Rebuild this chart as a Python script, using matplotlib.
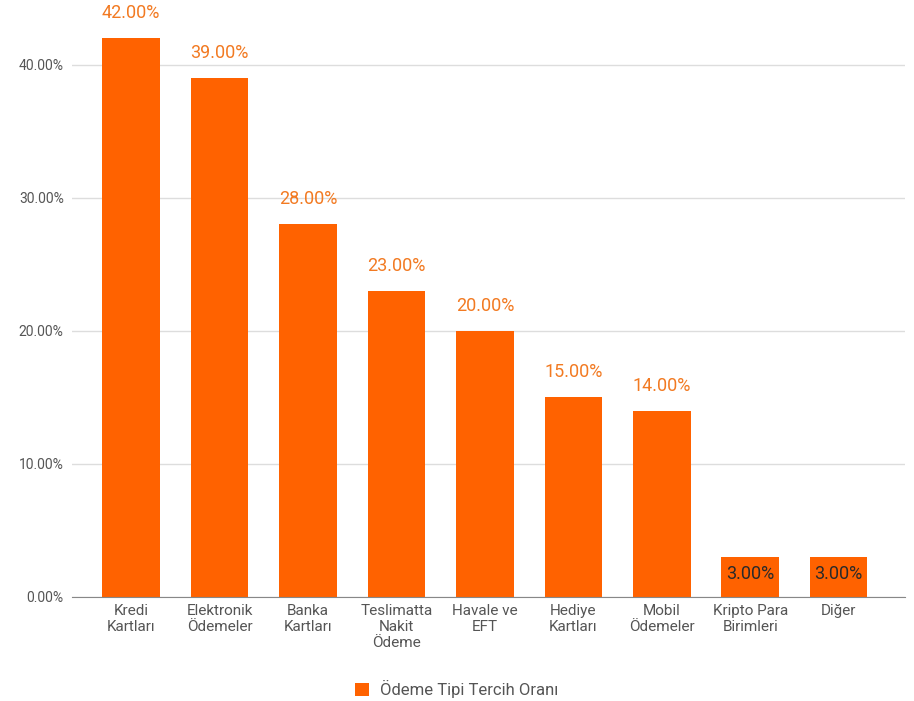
import matplotlib.pyplot as plt
import numpy as np

plt.rcParams['font.family'] = ['Roboto', 'DejaVu Sans']

# payment types and share of preference (%)
categories = ['Kredi\nKartları', 'Elektronik\nÖdemeler', 'Banka\nKartları',
              'Teslimatta\nNakit\nÖdeme', 'Havale ve\nEFT', 'Hediye\nKartları',
              'Mobil\nÖdemeler', 'Kripto Para\nBirimleri', 'Diğer']
shares = [42, 39, 28, 23, 20, 15, 14, 3, 3]
yticks = [0, 10, 20, 30, 40]
series_name = 'Ödeme Tipi Tercih Oranı'

bar_color = '#FF6200'
label_color = '#F27A22'

fig = plt.figure(figsize=(9.14, 7.01), dpi=100)
ax = fig.add_axes([0.0788, 0.1484, 0.9114, 0.835])

x = np.arange(len(categories))
bars = ax.bar(x, shares, width=0.65, color=bar_color, zorder=3)

ax.set_xlim(-0.667, 8.75)
ax.set_ylim(0, 44)

ax.set_yticks(yticks)
ax.set_yticklabels([f'{v:.2f}%' for v in yticks], color='#555555', fontsize=10)
ax.set_xticks(x)
ax.set_xticklabels(categories, color='#555555', fontsize=11, linespacing=1.2)
ax.tick_params(axis='y', length=0, pad=6)
ax.tick_params(axis='x', length=0, pad=5)

ax.grid(axis='y', color='#dddddd', linewidth=1, zorder=0)
for side in ['top', 'right', 'left']:
    ax.spines[side].set_visible(False)
ax.spines['bottom'].set_color('#888888')
ax.spines['bottom'].set_zorder(4)

# value labels: above tall bars, inside the short ones
for xi, v in zip(x, shares):
    if v >= 10:
        ax.annotate(f'{v:.2f}%', (xi, v), xytext=(0, 18), textcoords='offset points',
                    ha='center', va='center', color=label_color, fontsize=13,
                    annotation_clip=False)
    else:
        ax.annotate(f'{v:.2f}%', (xi, v), xytext=(0, -12), textcoords='offset points',
                    ha='center', va='center', color='#2a2a2a', fontsize=13, zorder=5)

leg = fig.legend([bars[0]], [series_name], loc='center', bbox_to_anchor=(0.5, 0.017),
                 frameon=False, fontsize=12, handlelength=0.8, handleheight=0.8,
                 handletextpad=0.7)
for t in leg.get_texts():
    t.set_color('#555555')

fig.savefig('out.png', dpi=100, facecolor='white')
